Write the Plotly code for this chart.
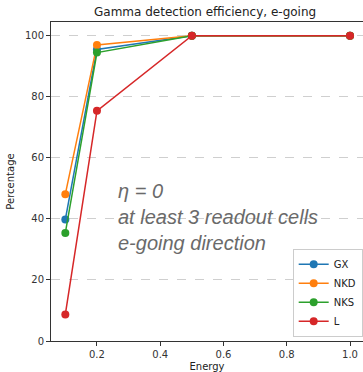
import plotly.graph_objects as go

energy = [0.1, 0.2, 0.5, 1.0]
gx = [39.8, 95.5, 100, 100]
nkd = [48.1, 97.0, 100, 100]
nks = [35.4, 94.5, 100, 100]
l_vals = [8.7, 75.4, 100, 100]

series = [("GX", gx, "#1f77b4"), ("NKD", nkd, "#ff7f0e"),
          ("NKS", nks, "#2ca02c"), ("L", l_vals, "#d62728")]

fig = go.Figure()
for name, vals, col in series:
    fig.add_trace(go.Scatter(x=energy, y=vals, name=name, mode="lines+markers",
                             line=dict(color=col, width=1.5),
                             marker=dict(color=col, size=8)))

font = "DejaVu Sans"
fig.update_layout(
    width=363, height=372,
    margin=dict(l=51, r=0, t=22, b=31),
    plot_bgcolor="white", paper_bgcolor="white",
    font=dict(family=font, size=10, color="#333"),
    title=dict(text="Gamma detection efficiency, e-going", x=0.565, xanchor="center",
               y=1 - 12/372, yanchor="middle", font=dict(size=12, color="#222")),
    showlegend=True,
    legend=dict(x=0.999, xanchor="right", y=0.013, yanchor="bottom",
                bordercolor="#ccc", borderwidth=1, bgcolor="white",
                font=dict(size=10, color="#222"), itemwidth=30,
                tracegroupgap=0),
)
fig.update_xaxes(range=[0.0547, 1.041], tickvals=[0.2, 0.4, 0.6, 0.8, 1.0],
                 ticktext=["0.2", "0.4", "0.6", "0.8", "1.0"],
                 showline=True, linecolor="#333", linewidth=1, mirror=True,
                 ticks="outside", ticklen=4, tickcolor="#333", showgrid=False,
                 zeroline=False,
                 title=dict(text="Energy", font=dict(size=10, color="#222"), standoff=4))
fig.update_yaxes(range=[0, 104.5], tickvals=[0, 20, 40, 60, 80, 100],
                 showline=True, linecolor="#333", linewidth=1, mirror=True,
                 ticks="outside", ticklen=4, tickcolor="#333",
                 showgrid=True, gridcolor="#cfcfcf", griddash="dash", gridwidth=1,
                 zeroline=False,
                 title=dict(text="Percentage", font=dict(size=10, color="#222"), standoff=8))

fig.add_annotation(text="<i>η = 0<br>at least 3 readout cells<br>e-going direction</i>",
                   xref="paper", yref="paper", x=(116-51)/312, y=1 - (178-22)/319,
                   xanchor="left", yanchor="top", align="left", showarrow=False,
                   font=dict(family="Liberation Sans", size=20, color="#6a6a6a"))

fig.write_html("out.html")
